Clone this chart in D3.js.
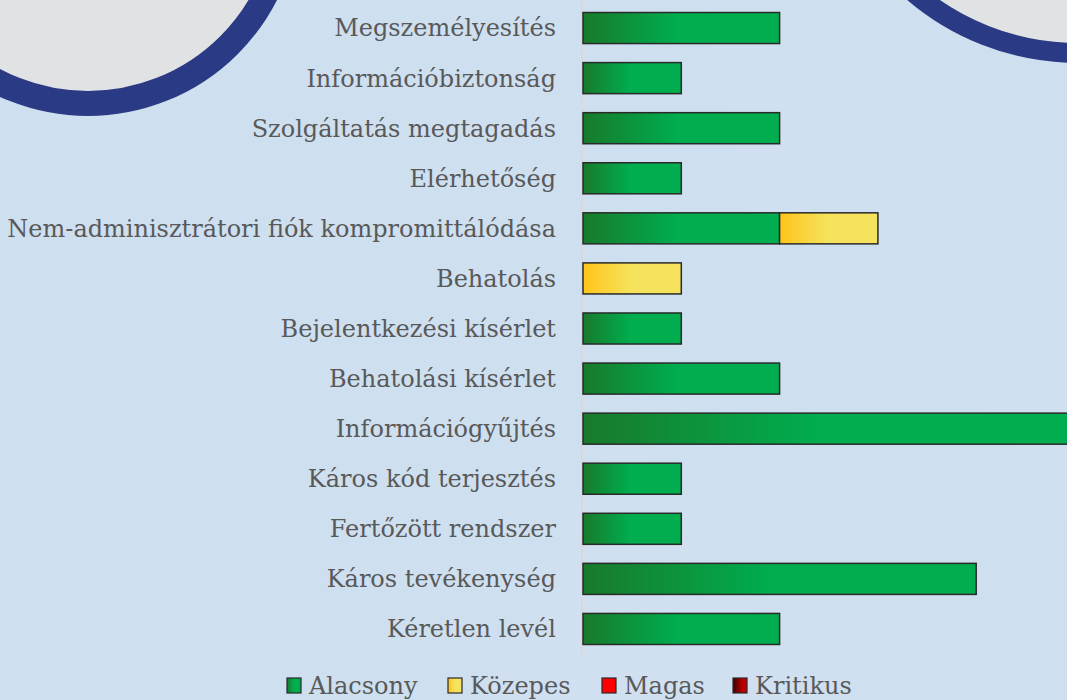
<!DOCTYPE html>
<html lang="hu">
<meta charset="utf-8">
<head>
    <script src="https://d3js.org/d3.v7.min.js"></script>
    <style>
        body { margin: 0; overflow: hidden; }
    </style>
</head>
<body>
<script>
// categories, top to bottom
const categories = [
    "Megszemélyesítés",
    "Információbiztonság",
    "Szolgáltatás megtagadás",
    "Elérhetőség",
    "Nem-adminisztrátori fiók kompromittálódása",
    "Behatolás",
    "Bejelentkezési kísérlet",
    "Behatolási kísérlet",
    "Információgyűjtés",
    "Káros kód terjesztés",
    "Fertőzött rendszer",
    "Káros tevékenység",
    "Kéretlen levél"
];
const alacsony = [2, 1, 2, 1, 2, 0, 1, 2, 5, 1, 1, 4, 2];
const kozepes  = [0, 0, 0, 0, 1, 1, 0, 0, 0, 0, 0, 0, 0];
const magas    = [0, 0, 0, 0, 0, 0, 0, 0, 0, 0, 0, 0, 0];
const kritikus = [0, 0, 0, 0, 0, 0, 0, 0, 0, 0, 0, 0, 0];
const seriesNames = ["Alacsony", "Közepes", "Magas", "Kritikus"];

const W = 1067, H = 700;
const font = "'DejaVu Serif', serif";

const svg = d3.select("body").append("svg")
    .attr("width", W)
    .attr("height", H);

const defs = svg.append("defs");
function grad(id, c0, c1, mid) {
    const g = defs.append("linearGradient").attr("id", id)
        .attr("x1", 0).attr("x2", 1).attr("y1", 0).attr("y2", 0);
    g.append("stop").attr("offset", 0).attr("stop-color", c0);
    g.append("stop").attr("offset", mid).attr("stop-color", c1);
    g.append("stop").attr("offset", 1).attr("stop-color", c1);
}
grad("g-alacsony", "#187a2b", "#00ad4f", 0.48);
grad("g-kozepes", "#ffc41a", "#f5e35e", 0.5);
grad("g-magas", "#ff0000", "#ff0000", 0.5);
grad("g-kritikus", "#3a0000", "#c00000", 0.7);
const fills = ["url(#g-alacsony)", "url(#g-kozepes)", "url(#g-magas)", "url(#g-kritikus)"];

// background
svg.append("rect").attr("width", W).attr("height", H).attr("fill", "#cedff0");
const bgShapes = [
    [[0, 300], [260, 620], [0, 700]],
    [[620, 420], [820, 700], [480, 700]],
    [[700, 0], [900, 120], [760, 260]],
    [[900, 300], [1067, 200], [1067, 520]]
];
svg.append("g").selectAll("polygon").data(bgShapes).join("polygon")
    .attr("points", d => d.map(p => p.join(",")).join(" "))
    .attr("fill", "#ffffff").attr("opacity", 0.045);

// corner badges
function badge(cx, cy, r, ring) {
    svg.append("circle").attr("cx", cx).attr("cy", cy).attr("r", r - ring / 2)
        .attr("fill", "#e1e2e4")
        .attr("stroke", "#2b3a84").attr("stroke-width", ring);
}
badge(88, -96, 212, 25);
badge(1078, -200, 263, 20);

// scales
const y = d3.scaleBand()
    .domain(categories)
    .range([3, 654])
    .paddingInner(0.38)
    .paddingOuter(0.19);

const x = d3.scaleLinear()
    .domain([0, 5])
    .range([583, 583 + 5 * 98.3]);

// vertical axis line
svg.append("line")
    .attr("x1", x(0) - 1).attr("x2", x(0) - 1)
    .attr("y1", 0).attr("y2", 655)
    .attr("stroke", "#d9d9d9").attr("stroke-width", 2);

// stacked bars
const rows = categories.map((c, i) => ({
    cat: c, Alacsony: alacsony[i], "Közepes": kozepes[i], Magas: magas[i], Kritikus: kritikus[i]
}));
const stacked = d3.stack().keys(seriesNames)(rows);

svg.append("g").selectAll("g").data(stacked).join("g")
    .attr("fill", (d, i) => fills[i])
    .selectAll("rect")
    .data(d => d.filter(v => v[1] - v[0] > 0))
    .join("rect")
    .attr("x", d => x(d[0]))
    .attr("y", d => y(d.data.cat))
    .attr("width", d => x(d[1]) - x(d[0]))
    .attr("height", y.bandwidth())
    .attr("stroke", "#2a2a2a")
    .attr("stroke-width", 1.5);

// category labels
svg.append("g").selectAll("text").data(categories).join("text")
    .attr("x", 556)
    .attr("y", d => y(d) + y.bandwidth() / 2)
    .attr("dy", "0.35em")
    .attr("text-anchor", "end")
    .attr("font-family", font)
    .attr("font-size", 24)
    .attr("fill", "#595959")
    .text(d => d);

// legend
const legendX = [287, 448, 602, 733];
const lg = svg.append("g").selectAll("g").data(seriesNames).join("g")
    .attr("transform", (d, i) => `translate(${legendX[i]},678)`);
lg.append("rect")
    .attr("width", 14).attr("height", 15)
    .attr("fill", (d, i) => fills[i])
    .attr("stroke", "#2a2a2a").attr("stroke-width", 1.2);
lg.append("text")
    .attr("x", 22).attr("y", 16)
    .attr("font-family", font)
    .attr("font-size", 24)
    .attr("fill", "#595959")
    .text(d => d);
</script>
</body>
</html>
